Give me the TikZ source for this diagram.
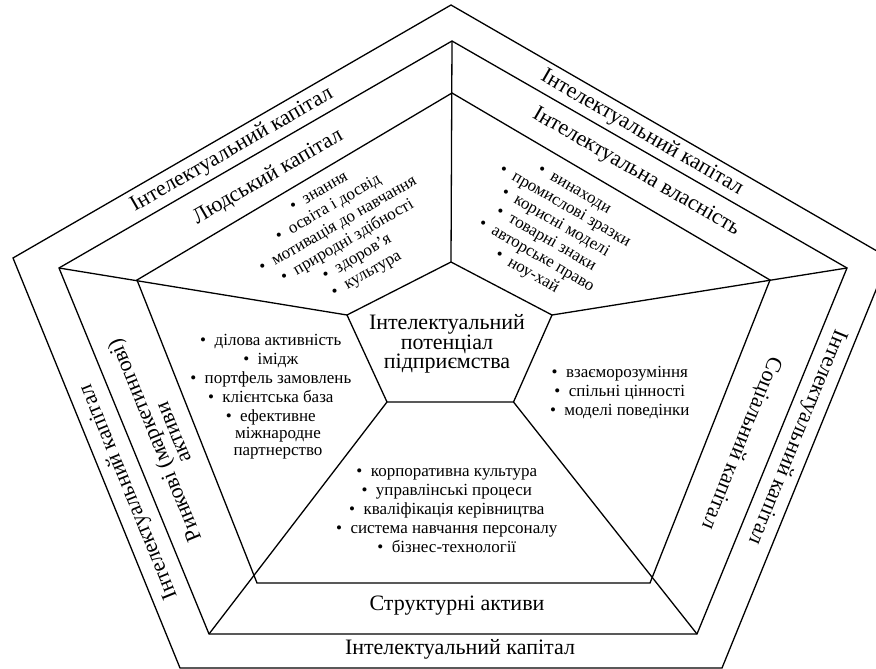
\documentclass[tikz,border=0pt]{standalone}
\usepackage{fontspec}
\setmainfont{Liberation Serif}
\newcommand\bu{\llap{\textbullet\hspace{0.5em}}}
\begin{document}
\begin{tikzpicture}[x=1pt,y=-1pt]
\tikzset{
  frame/.style={line width=1.3pt, line join=miter},
  lab/.style={font=\fontsize{22}{20}\selectfont, inner sep=0pt, align=center},
  lst/.style={font=\fontsize{17}{19}\selectfont, inner sep=0pt, align=center},
  ctr/.style={font=\fontsize{22}{19.5}\selectfont, inner sep=0pt, align=center}
}
\useasboundingbox (0,0) rectangle (876,669);
% outer pentagon
\coordinate (O1) at (451,5);
\coordinate (O2) at (889,258);
\coordinate (O3) at (722,668);
\coordinate (O4) at (180,668);
\coordinate (O5) at (13,258);
% middle pentagon
\coordinate (M1) at (452,41);
\coordinate (M2) at (847,268);
\coordinate (M3) at (697,634);
\coordinate (M4) at (209,634);
\coordinate (M5) at (59,268);
% third pentagon
\coordinate (T1) at (452,93);
\coordinate (T2) at (770,280);
\coordinate (T3) at (650,583);
\coordinate (T4) at (257,583);
\coordinate (T5) at (137,280);
% central pentagon
\coordinate (C1) at (451,262);
\coordinate (C2) at (552,315);
\coordinate (C3) at (513.5,402);
\coordinate (C4) at (387,402);
\coordinate (C5) at (347,315);

\draw[frame] (O1)--(O2)--(O3)--(O4)--(O5)--cycle;
\draw[frame] (M1)--(M2)--(M3)--(M4)--(M5)--cycle;
\draw[frame] (T1)--(T2)--(T3)--(T4)--(T5)--cycle;
\draw[frame] (C1)--(C2)--(C3)--(C4)--(C5)--cycle;
\draw[frame] (M1)--(C1);
\draw[frame] (M2)--(C2);
\draw[frame] (M3)--(C3);
\draw[frame] (M4)--(C4);
\draw[frame] (M5)--(C5);

% outer band labels
\node[lab, rotate=30] (ik1) at (232,150) {Інтелектуальний капітал};
\node[lab, rotate=-30] (ik2) at (642,133) {Інтелектуальний капітал};
\node[lab, rotate=-112.2] (ik3) at (797,437) {Інтелектуальний капітал};
\node[lab] (ik4) at (460,649) {Інтелектуальний капітал};
\node[lab, rotate=112.2] (ik5) at (129,492) {Інтелектуальний капітал};

% second band labels
\node[lab, rotate=30] (lk) at (268,177) {Людський капітал};
\node[lab, rotate=-30] (iv) at (636,172) {Інтелектуальна власність};
\node[lab, rotate=-111.8] (sk) at (741,443) {Соціальний капітал};
\node[lab] (sa) at (457,606) {Структурні активи};
\node[lab, rotate=112.2] (ra) at (163,437) {Ринкові (маркетингові)\\активи};

% centre
\node[ctr] (ip) at (447,344) {Інтелектуальний\\потенціал\\підприємства};

% lists
\node[lst, rotate=30] (l1) at (350,231) {\bu знання\\ \bu освіта і досвід\\ \bu мотивація до навчання\\ \bu природні здібності\\ \bu здоров’я\\ \bu культура};
\node[lst, rotate=-30] (l2) at (556,236) {\bu винаходи\\ \bu промислові зразки\\ \bu корисні моделі\\ \bu товарні знаки\\ \bu авторське право\\ \bu ноу-хай};
\node[lst] (l3) at (278,397) {\bu ділова активність\\ \bu імідж\\ \bu портфель замовлень\\ \bu клієнтська база\\ \bu ефективне\\[-2pt] міжнародне\\[-2pt] партнерство};
\node[lst] (l4) at (627,393) {\bu взаєморозуміння\\ \bu спільні цінності\\ \bu моделі поведінки};
\node[lst] (l5) at (454,511) {\bu корпоративна культура\\ \bu управлінські процеси\\ \bu кваліфікація керівництва\\ \bu система навчання персоналу\\ \bu бізнес-технології};
\end{tikzpicture}
\end{document}
